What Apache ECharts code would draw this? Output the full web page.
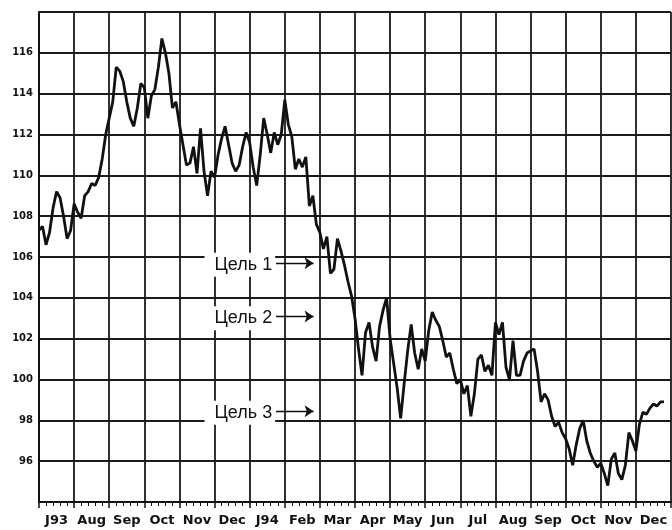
<!DOCTYPE html>
<html>
<head>
<meta charset="utf-8">
<script src="https://cdn.jsdelivr.net/npm/echarts@6/dist/echarts.min.js"></script>
<style>
html, body { margin: 0; background: #fff; }
#chart { width: 672px; height: 530px; }
</style>
</head>
<body>
<div id="chart"></div>
<script>
// month labels under the axis (one per month cell)
const months = ["J93", "Aug", "Sep", "Oct", "Nov", "Dec", "J94", "Feb", "Mar", "Apr", "May", "Jun", "Jul", "Aug", "Sep", "Oct", "Nov", "Dec"];
const pointsPerMonth = 10;

// price, 10 readings per month
const prices = [
	107.3, 107.5, 106.6, 107.2, 108.4, 109.2, 108.9, 108.0, 106.9, 107.3, // Jul 93
	108.6, 108.2, 107.9, 109.0, 109.2, 109.6, 109.5, 109.9, 110.8, 112.0, // Aug
	112.8, 113.6, 115.3, 115.1, 114.6, 113.6, 112.8, 112.4, 113.3, 114.5, // Sep
	114.3, 112.8, 113.9, 114.2, 115.3, 116.7, 116.0, 115.0, 113.3, 113.6, // Oct
	112.5, 111.5, 110.5, 110.6, 111.4, 110.1, 112.3, 110.2, 109.0, 110.2, // Nov
	109.9, 111.0, 111.8, 112.4, 111.5, 110.6, 110.2, 110.5, 111.4, 112.1, // Dec
	111.6, 110.4, 109.5, 111.0, 112.8, 112.0, 111.1, 112.1, 111.5, 112.0, // Jan 94
	113.7, 112.5, 111.9, 110.3, 110.8, 110.4, 110.9, 108.5, 109.0, 107.6, // Feb
	107.2, 106.4, 107.0, 105.2, 105.4, 106.9, 106.3, 105.6, 104.8, 104.1, // Mar
	103.0, 101.5, 100.2, 102.3, 102.8, 101.6, 100.9, 102.6, 103.4, 104.0, // Apr
	102.0, 100.8, 99.6, 98.1, 99.8, 101.4, 102.7, 101.3, 100.5, 101.5, // May
	100.9, 102.4, 103.3, 102.9, 102.6, 101.9, 101.1, 101.3, 100.5, 99.8, // Jun
	100.0, 99.3, 99.7, 98.2, 99.3, 101.0, 101.2, 100.4, 100.7, 100.2, // Jul
	102.8, 102.2, 102.8, 100.6, 100.0, 101.9, 100.2, 100.2, 100.9, 101.3, // Aug
	101.4, 101.5, 100.4, 98.9, 99.3, 99.0, 98.2, 97.7, 97.9, 97.4, // Sep
	97.1, 96.6, 95.8, 96.8, 97.6, 98.0, 97.0, 96.4, 96.0, 95.7, // Oct
	95.9, 95.4, 94.8, 96.1, 96.4, 95.4, 95.1, 95.8, 97.4, 97.0, // Nov
	96.5, 97.8, 98.4, 98.3, 98.6, 98.8, 98.7, 98.9, 98.9 // Dec
];

const targetNames = ["Цель 1", "Цель 2", "Цель 3"];
const targetLevels = [105.7, 103.08, 98.45];

const chart = echarts.init(document.getElementById("chart"));

const option = {
	animation: false,
	backgroundColor: "#fff",
	grid: { left: 39, right: 1, top: 12, bottom: 28 },
	xAxis: [
		{
			type: "value",
			min: 0,
			max: months.length,
			interval: 1,
			axisLine: { show: true, lineStyle: { color: "#111", width: 2 } },
			axisTick: { show: true, length: 6, lineStyle: { color: "#111", width: 1.5 } },
			minorTick: { show: true, splitNumber: 5, length: 4, lineStyle: { color: "#111", width: 1 } },
			axisLabel: { show: false },
			splitLine: { show: true, lineStyle: { color: "#1a1a1a", width: 1.8 } },
		},
		{
			type: "category",
			data: months,
			position: "bottom",
			boundaryGap: true,
			axisLine: { show: false },
			axisTick: { show: false },
			splitLine: { show: false },
			axisLabel: {
				interval: 0,
				margin: 12,
				fontSize: 13,
				fontWeight: "bold",
				fontFamily: "DejaVu Sans",
				color: "#111",
			},
		},
	],
	yAxis: {
		type: "value",
		min: 94,
		max: 118,
		interval: 2,
		axisLine: { show: true, lineStyle: { color: "#111", width: 2 } },
		axisTick: { show: false },
		axisLabel: {
			showMinLabel: false,
			showMaxLabel: false,
			margin: 6,
			fontSize: 10,
			fontWeight: "bold",
			fontFamily: "DejaVu Sans",
			color: "#111",
		},
		splitLine: { show: true, lineStyle: { color: "#1a1a1a", width: 1.8 } },
	},
	series: [
		{
			type: "line",
			xAxisIndex: 0,
			data: prices.map((v, i) => [i / pointsPerMonth, v]),
			showSymbol: false,
			lineStyle: { color: "#111", width: 2.8 },
			z: 3,
			markLine: {
				silent: true,
				symbol: ["none", "arrow"],
				symbolSize: 9,
				label: { show: false },
				lineStyle: { color: "#111", width: 1.3, type: "solid" },
				data: targetLevels.map((v) => [{ coord: [6.75, v] }, { coord: [7.82, v] }]),
			},
			markPoint: {
				symbol: "rect",
				symbolSize: 0,
				silent: true,
				label: {
					show: true,
					position: "inside",
					formatter: (p) => p.name,
					fontSize: 18,
					fontFamily: "Liberation Sans",
					color: "#111",
					backgroundColor: "#fff",
					padding: [3, 3, 3, 10],
				},
				data: targetNames.map((n, i) => ({ name: n, coord: [5.72, targetLevels[i] - 0.08] })),
			},
		},
	],
};

chart.setOption(option);
</script>
</body>
</html>
